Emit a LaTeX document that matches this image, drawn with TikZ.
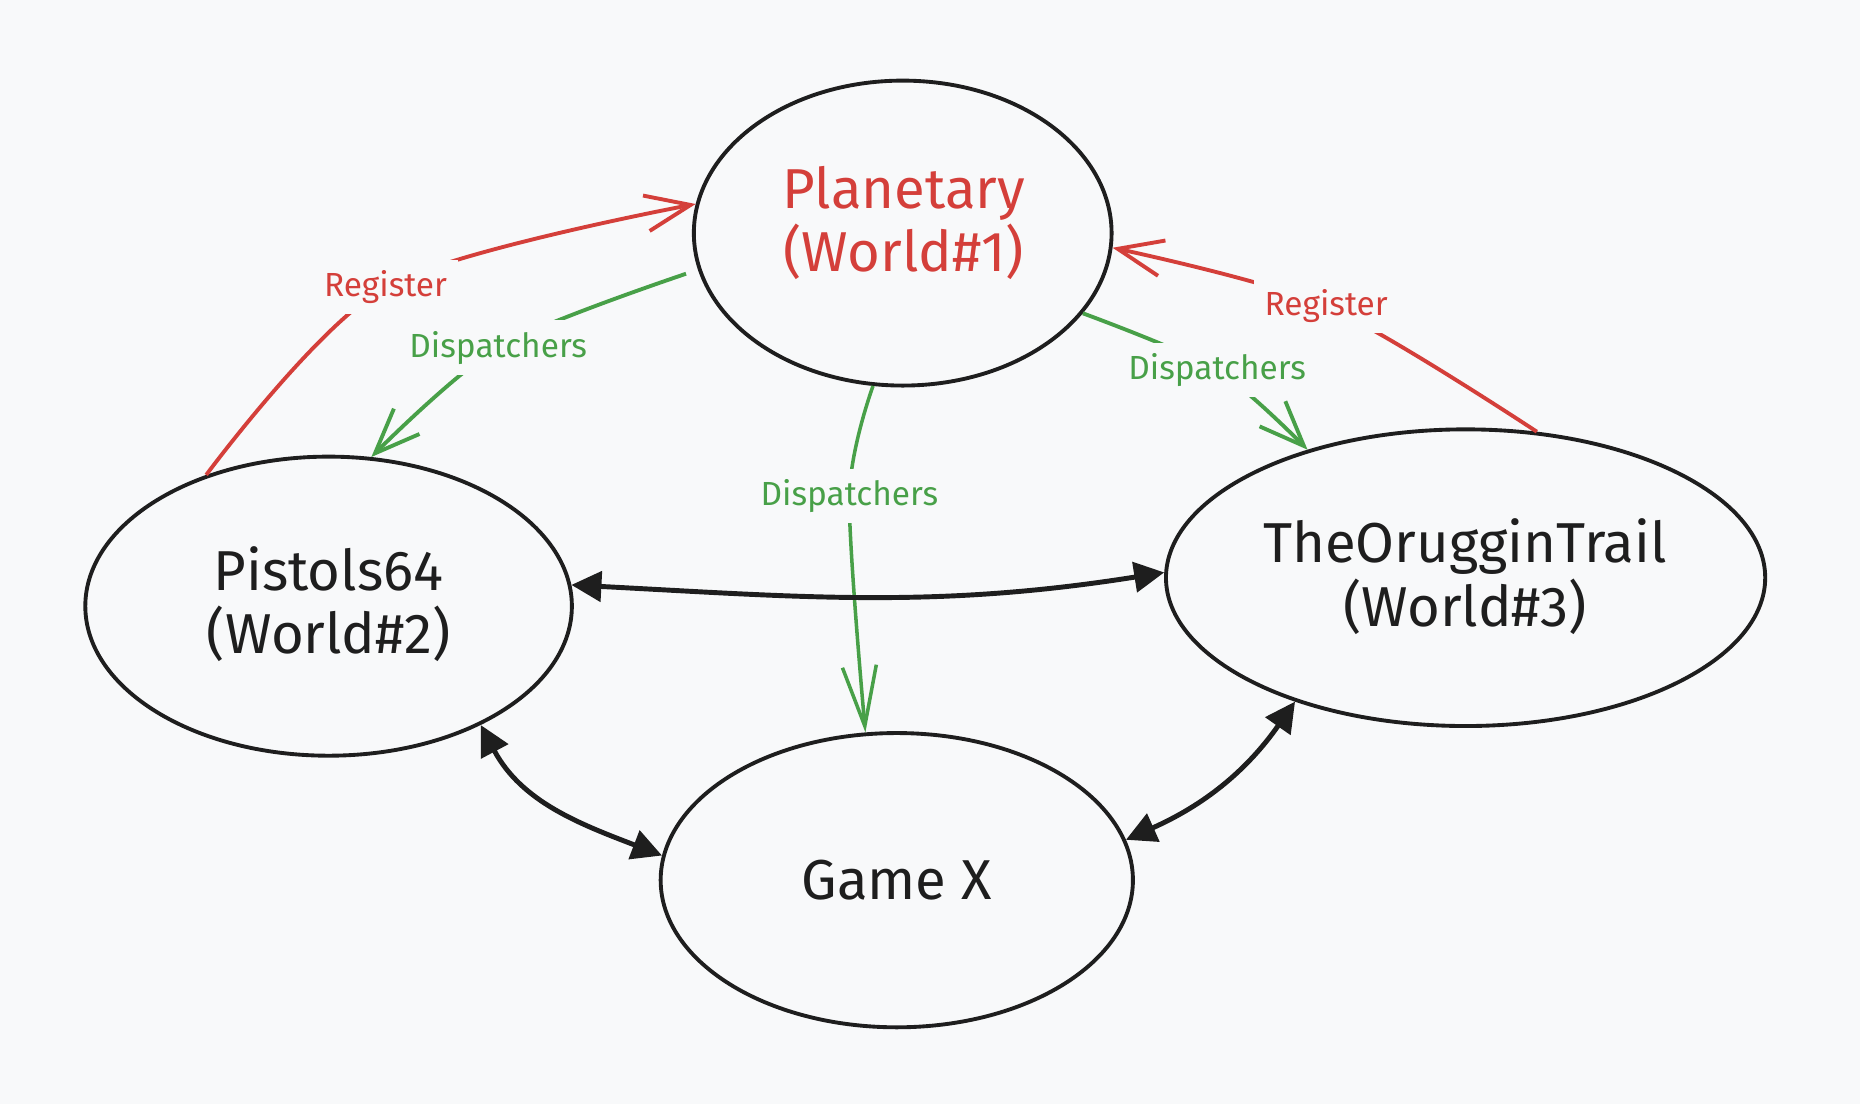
\documentclass[tikz,border=0pt]{standalone}
\usepackage{fontspec}
\setmainfont{Fira Sans}
\usetikzlibrary{shapes.geometric,arrows.meta}
\definecolor{bgc}{HTML}{F8F9FA}
\definecolor{redc}{RGB}{212,63,58}
\definecolor{greenc}{RGB}{72,160,72}
\definecolor{inkc}{RGB}{30,30,30}
\begin{document}
\begin{tikzpicture}[x=0.01186cm,y=0.01186cm,
  ell/.style={ellipse, draw=inkc, line width=1.1pt, inner sep=0pt},
  big/.style={font=\fontsize{16}{18}\selectfont, align=center, text=inkc},
  lab/.style={font=\fontsize{9.5}{11}\selectfont, fill=bgc, inner sep=3pt},
  reg/.style={draw=redc, line width=1.1pt, -{Straight Barb[length=4.5mm,width=3.6mm]}},
  dis/.style={draw=greenc, line width=1.1pt, -{Straight Barb[length=4.5mm,width=3.6mm]}},
  dislong/.style={draw=greenc, line width=1pt, -{Straight Barb[length=6mm,width=3.4mm]}},
  bi/.style={draw=inkc, line width=1.4pt, {Triangle[length=3mm,width=3mm]}-{Triangle[length=3mm,width=3mm]}}
]
\fill[bgc] (0,0) rectangle (1568,931);
\useasboundingbox (0,0) rectangle (1568,931);

\node[ell, minimum width=4.175cm, minimum height=3.048cm] (pl) at (761,734.5) {};
\node[big, text=redc] (plt) at (762,743) {Planetary\\(World\#1)};
\node[ell, minimum width=4.863cm, minimum height=2.989cm] (pis) at (277,420) {};
\node[big] (pist) at (277,422) {Pistols64\\(World\#2)};
\node[ell, minimum width=5.989cm, minimum height=2.965cm] (orug) at (1235.5,444) {};
\node[big] (orugt) at (1235,445) {TheOrugginTrail\\(World\#3)};
\node[ell, minimum width=4.72cm, minimum height=2.941cm] (gx) at (756,189) {};
\node[big] (gxt) at (756,189) {Game X};

\coordinate (m1) at (325,689);
\coordinate (m2) at (420,638);
\coordinate (m3) at (1118,673);
\coordinate (m4) at (1026,619);
\coordinate (m5) at (716,513);

\draw[reg] plot[smooth] coordinates {(pis.133) (m1) (pl.172)};
\draw[dis] plot[smooth] coordinates {([shift={(-12,2)}]pl.192) (m2) (pis.74)};
\draw[reg] plot[smooth] coordinates {(orug.64) (m3) (pl.356)};
\draw[dis] plot[smooth] coordinates {(pl.336) (m4) (orug.141)};
\draw[dislong] plot[smooth] coordinates {(pl.259) (m5) (gx.102)};

\node[lab, text=redc] (l1) at (m1) {Register};
\node[lab, text=greenc] (l2) at (m2) {Dispatchers};
\node[lab, text=redc] (l3) at (m3) {Register};
\node[lab, text=greenc] (l4) at (m4) {Dispatchers};
\node[lab, text=greenc] (l5) at (m5) {Dispatchers};

\draw[bi] (pis.5) to[out=-3,in=189] (orug.179);
\draw[bi] (pis.322) to[out=-62,in=159] (gx.174);
\draw[bi] (orug.216) to[out=235,in=24] (gx.10);
\end{tikzpicture}
\end{document}
